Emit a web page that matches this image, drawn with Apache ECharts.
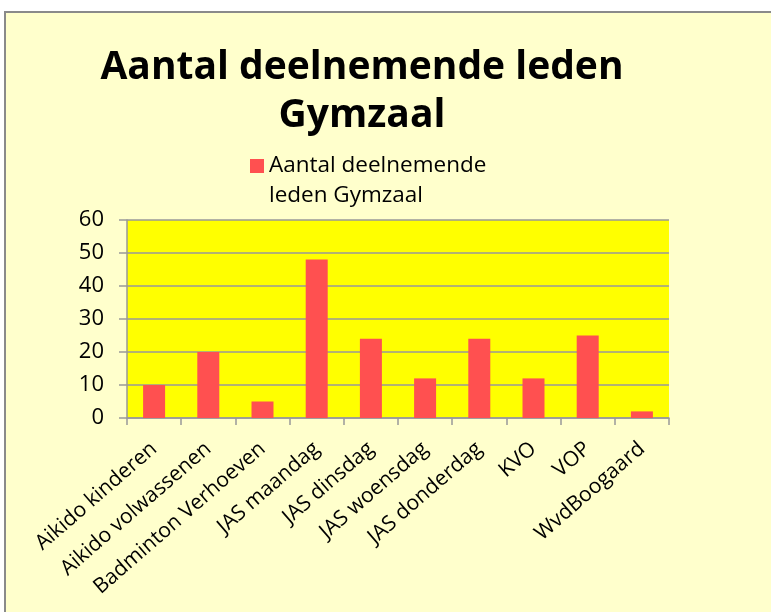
<!DOCTYPE html>
<html>
<head>
<meta charset="utf-8">
<script src="https://cdn.jsdelivr.net/npm/echarts@6/dist/echarts.min.js"></script>
<style>
  html, body { margin: 0; padding: 0; background: #fff; }
  #chart { width: 771px; height: 612px; }
</style>
</head>
<body>
<div id="chart"></div>
<script>
// gegevens
var categories = ['Aikido kinderen', 'Aikido volwassenen', 'Badminton Verhoeven', 'JAS maandag', 'JAS dinsdag',
	'JAS woensdag', 'JAS donderdag', 'KVO', 'VOP', 'WvdBoogaard'];
var leden = [10, 20, 5, 48, 24, 12, 24, 12, 25, 2];
var yTicks = { min: 0, max: 60, interval: 10 };
var seriesName = 'Aantal deelnemende leden Gymzaal';

var myChart = echarts.init(document.getElementById('chart'));
var fontName = 'Open Sans';

var option = {
	backgroundColor: '#ffffff',
	animation: false,
	graphic: [{
		type: 'rect',
		z: -10,
		shape: { x: 5, y: 12, width: 800, height: 640 },
		style: { fill: '#ffffcc', stroke: '#8a8a8a', lineWidth: 2 }
	}],
	title: {
		text: 'Aantal deelnemende leden\nGymzaal',
		left: 357,
		top: 39,
		textAlign: 'center',
		textStyle: {
			fontFamily: fontName,
			fontWeight: 'bold',
			fontSize: 39,
			lineHeight: 48,
			color: '#000'
		}
	},
	legend: {
		data: [seriesName],
		left: 245,
		top: 146,
		itemWidth: 14,
		itemHeight: 44,
		itemGap: 0,
		// vierkantje bovenaan, zodat het bij de eerste regel staat
		icon: 'path://M0,0h14v14h-14zM0,44h0.01v-0.01z',
		formatter: function () {
			return 'Aantal deelnemende\nleden Gymzaal';
		},
		textStyle: {
			fontFamily: fontName,
			fontSize: 22.5,
			lineHeight: 30,
			color: '#000'
		}
	},
	grid: {
		left: 127,
		top: 220,
		right: 102,
		bottom: 194,
		show: true,
		backgroundColor: '#ffff00',
		borderWidth: 0
	},
	xAxis: {
		type: 'category',
		data: categories,
		axisLine: { lineStyle: { color: '#999', width: 1.5 } },
		axisTick: { show: true, length: 7, lineStyle: { color: '#999', width: 1.5 } },
		axisLabel: {
			rotate: 41,
			interval: 0,
			margin: 28,
			fontFamily: fontName,
			fontSize: 21,
			color: '#000'
		}
	},
	yAxis: {
		type: 'value',
		min: yTicks.min,
		max: yTicks.max,
		interval: yTicks.interval,
		axisLine: { show: true, lineStyle: { color: '#999', width: 1.5 } },
		axisTick: { show: true, length: 8, lineStyle: { color: '#999', width: 1.5 } },
		axisLabel: {
			margin: 23,
			fontFamily: fontName,
			fontSize: 22,
			color: '#000'
		},
		splitLine: { lineStyle: { color: '#999', width: 1.5 } }
	},
	series: [{
		name: seriesName,
		type: 'bar',
		data: leden,
		barWidth: 22,
		itemStyle: { color: '#ff5050' }
	}]
};
myChart.setOption(option);
</script>
</body>
</html>
